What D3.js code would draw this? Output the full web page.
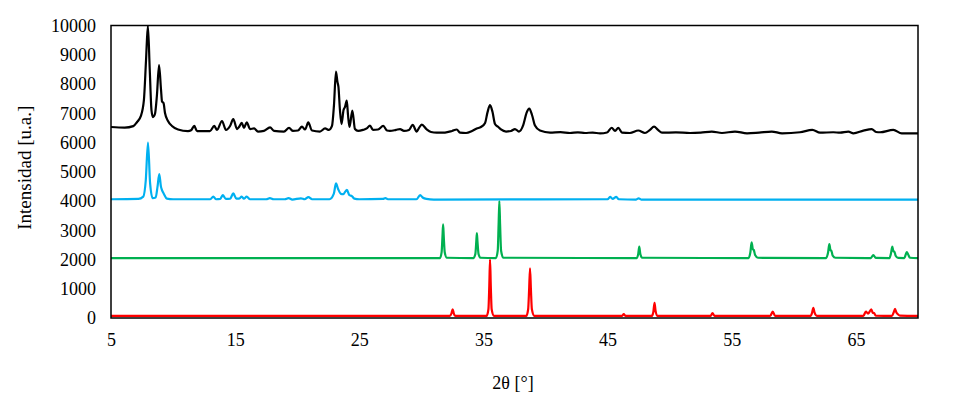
<!DOCTYPE html>
<html>
<head>
<meta charset="utf-8">
<script src="https://cdn.jsdelivr.net/npm/d3@7"></script>
<style>
  body { margin: 0; background: #fff; }
</style>
</head>
<body>
<div id="chart"></div>
<script>
// 2θ [°], intensity [u.a.]
const muestra = [
  [5.0, 6530], [6.1, 6510], [6.8, 6560], [7.1, 6700], [7.4, 6900], [7.65, 7450], [7.82, 8800],
  [7.97, 10000], [8.12, 8500], [8.26, 7110], [8.38, 6870], [8.54, 6975], [8.7, 7620],
  [8.87, 8650], [9.03, 7800], [9.11, 7400], [9.23, 7350], [9.35, 7010], [9.59, 6735],
  [9.91, 6565], [10.4, 6445], [11.2, 6390], [11.45, 6420], [11.71, 6565], [11.93, 6390],
  [12.97, 6390], [13.32, 6565], [13.54, 6430], [13.94, 6735], [14.26, 6430], [14.59, 6565],
  [14.85, 6800], [15.15, 6460], [15.31, 6530], [15.53, 6670], [15.71, 6500], [15.93, 6690],
  [16.2, 6460], [16.52, 6480], [16.84, 6375], [17.32, 6395], [17.81, 6515], [18.13, 6395],
  [18.93, 6375], [19.34, 6500], [19.66, 6395], [20.06, 6410], [20.38, 6545], [20.63, 6445],
  [20.89, 6685], [21.19, 6410], [21.83, 6375], [22.24, 6480], [22.56, 6430], [22.8, 6565],
  [22.96, 7280], [23.12, 8420], [23.24, 8070], [23.32, 7900], [23.44, 7110], [23.57, 6630],
  [23.73, 7110], [23.85, 7215], [23.99, 7430], [24.09, 6940], [24.21, 6530], [24.44, 7090],
  [24.65, 6460], [24.9, 6395], [25.3, 6430], [25.6, 6480], [25.86, 6580], [26.1, 6430],
  [26.51, 6445], [26.93, 6565], [27.23, 6410], [27.47, 6395], [27.96, 6430], [28.28, 6460],
  [28.6, 6395], [29.0, 6430], [29.3, 6600], [29.62, 6375], [29.81, 6500], [30.03, 6610],
  [30.43, 6450], [30.78, 6360], [31.23, 6335], [31.9, 6340], [32.47, 6395], [32.85, 6445],
  [33.11, 6340], [33.6, 6325], [34.08, 6395], [34.46, 6480], [34.8, 6530], [35.13, 6670],
  [35.33, 7040], [35.53, 7280], [35.73, 7040], [35.93, 6630], [36.2, 6530], [36.41, 6445],
  [36.82, 6375], [37.22, 6395], [37.54, 6460], [37.86, 6375], [38.21, 6600], [38.47, 7010],
  [38.69, 7155], [38.91, 6940], [39.15, 6580], [39.55, 6410], [40.36, 6340], [41.2, 6355],
  [41.97, 6325], [42.6, 6345], [43.18, 6325], [43.8, 6340], [44.39, 6310], [44.95, 6340],
  [45.33, 6505], [45.6, 6395], [45.86, 6500], [46.16, 6340], [46.8, 6325], [47.47, 6410],
  [48.01, 6325], [48.41, 6430], [48.74, 6540], [49.06, 6430], [49.38, 6335], [50.5, 6345],
  [51.64, 6325], [52.5, 6340], [53.39, 6375], [54.21, 6325], [55.26, 6375], [56.23, 6315],
  [57.2, 6340], [58.22, 6375], [59.05, 6315], [60.5, 6350], [61.49, 6430], [62.11, 6335],
  [63.18, 6350], [63.72, 6335], [64.39, 6370], [64.8, 6315], [65.6, 6405], [66.27, 6460],
  [66.62, 6360], [66.95, 6350], [68.01, 6430], [68.69, 6315], [70.0, 6315]
]

const celeste = [
  [5.0, 4060], [7.2, 4070], [7.6, 4150], [7.8, 4700], [7.98, 6000], [8.15, 4600], [8.35, 4100],
  [8.6, 4120], [8.75, 4500], [8.89, 4920], [9.02, 4500], [9.1, 4380], [9.25, 4250], [9.5, 4080],
  [10.0, 4060], [13.0, 4060], [13.24, 4150], [13.45, 4060], [13.8, 4070], [14.0, 4200],
  [14.25, 4070], [14.6, 4080], [14.85, 4260], [15.1, 4080], [15.3, 4080], [15.53, 4150],
  [15.7, 4080], [15.93, 4150], [16.2, 4060], [17.5, 4060], [17.8, 4100], [18.1, 4060],
  [19.0, 4060], [19.3, 4100], [19.6, 4050], [20.3, 4090], [20.6, 4060], [20.9, 4130],
  [21.2, 4060], [22.6, 4060], [22.95, 4250], [23.12, 4600], [23.3, 4400], [23.5, 4250],
  [23.7, 4230], [24.0, 4380], [24.2, 4200], [24.4, 4170], [24.6, 4080], [25.0, 4060],
  [26.9, 4070], [27.1, 4100], [27.3, 4060], [29.6, 4060], [29.9, 4200], [30.1, 4120],
  [30.4, 4070], [31.0, 4050], [45.0, 4060], [45.2, 4140], [45.4, 4070], [45.7, 4140],
  [45.9, 4060], [47.3, 4050], [47.5, 4090], [47.7, 4050], [70.0, 4050]
]

const verde = [
  [5.0, 2050], [31.5, 2050], [31.63, 2250], [31.7, 2800], [31.75, 3200], [31.8, 2800],
  [31.88, 2250], [32.05, 2060], [34.2, 2050], [34.35, 2200], [34.42, 2600], [34.47, 2900],
  [34.52, 2600], [34.6, 2200], [34.75, 2060], [36.0, 2050], [36.15, 2300], [36.22, 3200],
  [36.28, 4000], [36.34, 3200], [36.42, 2300], [36.6, 2060], [47.35, 2050], [47.47, 2200],
  [47.55, 2440], [47.63, 2200], [47.78, 2060], [56.35, 2050], [56.5, 2250], [56.6, 2590],
  [56.7, 2350], [56.78, 2320], [56.88, 2150], [57.1, 2060], [62.6, 2050], [62.76, 2250],
  [62.86, 2530], [62.95, 2320], [63.03, 2290], [63.13, 2130], [63.35, 2060], [66.2, 2050],
  [66.4, 2150], [66.6, 2055], [67.7, 2050], [67.83, 2220], [67.93, 2440], [68.02, 2280],
  [68.1, 2270], [68.2, 2130], [68.4, 2055], [68.9, 2050], [69.02, 2180], [69.1, 2250],
  [69.2, 2180], [69.35, 2060], [70.0, 2050]
]

const rojo = [
  [5.0, 70], [32.3, 70], [32.43, 170], [32.52, 300], [32.6, 170], [32.75, 75],
  [35.25, 70], [35.4, 300], [35.47, 1100], [35.53, 2000], [35.59, 1100], [35.66, 300], [35.85, 75],
  [38.45, 70], [38.6, 300], [38.68, 1000], [38.75, 1700], [38.82, 1000], [38.9, 300], [39.1, 75],
  [46.15, 70], [46.3, 130], [46.45, 70],
  [48.55, 70], [48.68, 200], [48.78, 520], [48.86, 250], [49.0, 75],
  [53.3, 70], [53.45, 170], [53.6, 75],
  [58.1, 70], [58.3, 220], [58.48, 75],
  [61.35, 70], [61.47, 180], [61.57, 350], [61.67, 180], [61.85, 75],
  [65.6, 70], [65.8, 220], [65.98, 150], [66.24, 300], [66.35, 180], [66.45, 170], [66.6, 80],
  [67.9, 70], [68.05, 200], [68.15, 310], [68.25, 200], [68.4, 120], [68.55, 80],
  [70.0, 70]
]

const xTicks = [5, 15, 25, 35, 45, 55, 65]
const yTicks = [0, 1000, 2000, 3000, 4000, 5000, 6000, 7000, 8000, 9000, 10000]

const series = [
  { name: 'muestra', values: muestra, color: '#000000' },
  { name: 'celeste', values: celeste, color: '#00B0F0' },
  { name: 'verde', values: verde, color: '#00B050' },
  { name: 'rojo', values: rojo, color: '#FF0000' }
]

const serif = '"Liberation Serif"'

const margin = { top: 25.5, left: 111, right: 35, bottom: 86 }
const width = 953 - margin.left - margin.right
const height = 404 - margin.top - margin.bottom

const svg = d3
  .select('#chart')
  .append('svg')
  .attr('width', width + margin.left + margin.right)
  .attr('height', height + margin.top + margin.bottom)
  .append('g')
  .attr('transform', 'translate(' + margin.left + ',' + margin.top + ')')

const xPositionScale = d3.scaleLinear().domain([5, 70]).range([0, width])
const yPositionScale = d3.scaleLinear().domain([0, 10000]).range([height, 0])

svg
  .append('defs')
  .append('clipPath')
  .attr('id', 'plot-clip')
  .append('rect')
  .attr('width', width)
  .attr('height', height)

const line = d3
  .line()
  .x(d => xPositionScale(d[0]))
  .y(d => yPositionScale(d[1]))
  .curve(d3.curveMonotoneX)

svg
  .append('g')
  .attr('clip-path', 'url(#plot-clip)')
  .selectAll('.pattern')
  .data(series.slice().reverse())
  .enter()
  .append('path')
  .attr('class', 'pattern')
  .attr('d', d => line(d.values))
  .attr('fill', 'none')
  .attr('stroke', d => d.color)
  .attr('stroke-width', 2.2)
  .attr('stroke-linejoin', 'round')

// box around the plot
svg
  .append('rect')
  .attr('width', width)
  .attr('height', height)
  .attr('fill', 'none')
  .attr('stroke', '#000')
  .attr('stroke-width', 1.5)

const yAxis = d3
  .axisLeft(yPositionScale)
  .tickValues(yTicks)
  .tickFormat(d3.format('d'))
  .tickSize(0)
  .tickPadding(15)
svg
  .append('g')
  .attr('class', 'axis y-axis')
  .call(yAxis)

const xAxis = d3
  .axisBottom(xPositionScale)
  .tickValues(xTicks)
  .tickFormat(d3.format('d'))
  .tickSize(0)
  .tickPadding(15)
svg
  .append('g')
  .attr('class', 'axis x-axis')
  .attr('transform', 'translate(0,' + height + ')')
  .call(xAxis)

svg.selectAll('.axis .domain').remove()
svg
  .selectAll('.axis text')
  .attr('fill', '#000')
  .style('font-family', serif)
  .style('font-size', '18px')

svg
  .append('text')
  .text('2θ [°]')
  .attr('x', 402)
  .attr('y', height + 71)
  .attr('text-anchor', 'middle')
  .style('font-family', serif)
  .style('font-size', '18px')

svg
  .append('text')
  .text('Intensidad [u.a.]')
  .attr('transform', 'translate(-80,' + (height / 2 - 4) + ') rotate(-90)')
  .attr('text-anchor', 'middle')
  .style('font-family', serif)
  .style('font-size', '19px')
</script>
</body>
</html>
